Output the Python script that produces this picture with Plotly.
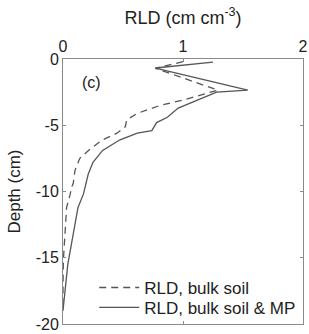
import plotly.graph_objects as go

depth_mp = [-0.23, -0.68, -2.35, -2.5, -3.7, -4.4, -4.8, -5.4, -5.6, -6.1, -6.9, -7.8, -8.7, -9.7, -10.2, -11.2, -13.2, -15.5, -17.5, -18.8, -19.0]
rld_mp = [1.25, 0.77, 1.54, 1.28, 0.96, 0.87, 0.78, 0.74, 0.62, 0.475, 0.33, 0.25, 0.21, 0.18, 0.17, 0.125, 0.085, 0.04, 0.017, 0.003, 0.0]

depth_bulk = [-0.2, -0.7, -2.35, -3.1, -3.5, -4.1, -4.6, -5.1, -5.6, -6.1, -6.8, -7.5, -8.4, -9.4, -9.7, -10.2, -11.2, -13.2, -15.2, -17.0, -19.0]
rld_bulk = [1.0, 0.77, 1.29, 1.0, 0.81, 0.62, 0.53, 0.52, 0.45, 0.33, 0.225, 0.14, 0.1, 0.085, 0.07, 0.06, 0.03, 0.017, 0.003, 0.0, 0.0]

x_ticks = [0, 1, 2]
y_ticks = [0, -5, -10, -15, -20]
y_ticktext = ["0", "-5", "-10", "-15", "-20"]

font = "Liberation Sans, Arial, sans-serif"
line_col = "#555555"
axis_col = "#8a8a8a"

fig = go.Figure()
fig.add_trace(go.Scatter(x=rld_bulk, y=depth_bulk, mode="lines", name="RLD, bulk soil",
                         line=dict(color=line_col, width=1.3, dash="7px,5px"), legend="legend"))
fig.add_trace(go.Scatter(x=rld_mp, y=depth_mp, mode="lines", name="RLD, bulk soil & MP",
                         line=dict(color=line_col, width=1.3), legend="legend2"))

leg_common = dict(xanchor="left", yanchor="middle", bgcolor="rgba(0,0,0,0)",
                  font=dict(size=17), itemwidth=40)

fig.update_layout(
    width=309, height=334,
    margin=dict(l=63, r=6, t=59, b=10),
    paper_bgcolor="white", plot_bgcolor="white",
    font=dict(family=font, size=16, color="#222222"),
    showlegend=True,
    legend=dict(x=0.13, y=0.136, **leg_common),
    legend2=dict(x=0.13, y=0.061, **leg_common),
    xaxis=dict(range=[0, 2], side="top", tickvals=x_ticks, ticks="inside", ticklen=3,
               showline=True, linecolor=axis_col, linewidth=1, mirror="ticks",
               tickcolor=axis_col, showgrid=False, zeroline=False, automargin=False,
               tickfont=dict(size=16),
               title=dict(text="RLD (cm cm<sup>-3</sup>)", standoff=8, font=dict(size=18))),
    yaxis=dict(range=[-20, 0], tickvals=y_ticks, ticktext=y_ticktext, ticks="inside", ticklen=3,
               showline=True, linecolor=axis_col, linewidth=1, mirror="ticks",
               tickcolor=axis_col, showgrid=False, zeroline=False, automargin=False,
               tickfont=dict(size=16),
               title=dict(text="Depth (cm)", standoff=10, font=dict(size=17))),
    annotations=[dict(x=0.24, y=-1.75, xref="x", yref="y", text="(c)", showarrow=False,
                      font=dict(size=16))],
)

fig.write_html("out.html", config={"displayModeBar": False},
               post_script="document.body.style.margin='0';document.body.style.padding='0';")
